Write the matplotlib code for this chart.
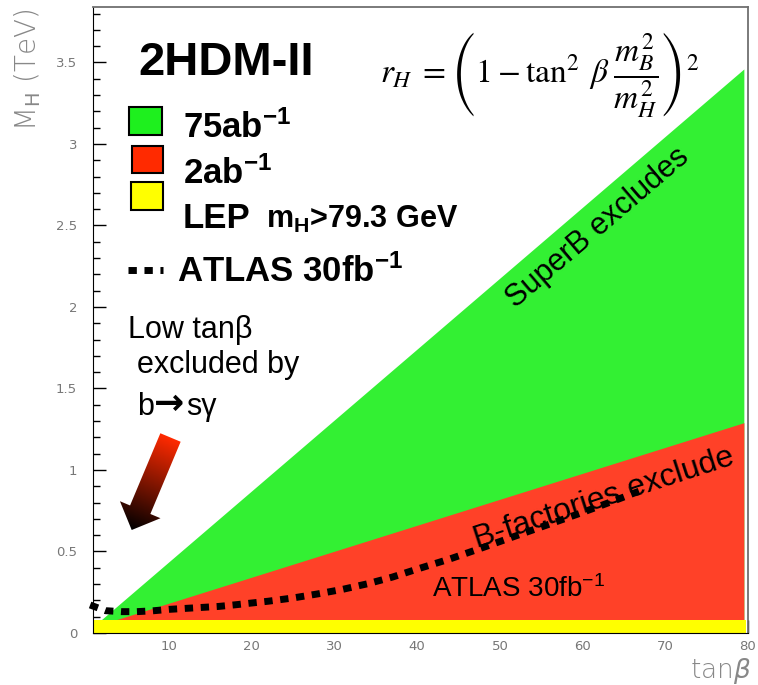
import numpy as np
import matplotlib
matplotlib.use('Agg')
import matplotlib.pyplot as plt
from matplotlib.patches import Rectangle, FancyArrow
from matplotlib.colors import LinearSegmentedColormap
from matplotlib.ticker import MultipleLocator, FuncFormatter

plt.rcParams['font.family'] = ['Liberation Sans', 'DejaVu Sans']
plt.rcParams['mathtext.fontset'] = 'custom'
plt.rcParams['mathtext.rm'] = 'Liberation Sans'
plt.rcParams['mathtext.it'] = 'Liberation Sans:italic'
plt.rcParams['mathtext.bf'] = 'Liberation Sans:bold'

# exclusion boundaries (M_H in TeV vs tan beta)
tanb_edges = [0.0, 79.5]
superb_mh = [0.003, 3.46]      # 75 ab^-1
bfact_mh = [0.024, 1.29]       # 2 ab^-1
lep_mh = [0.0793, 0.0793]      # LEP m_H > 79.3 GeV

# ATLAS 30 fb^-1 reach
atlas_tanb = [0.45, 2.3, 4.2, 6.1, 8, 10, 12, 14, 16, 18, 20, 22, 25, 28, 31,
              34, 37, 40, 44, 48, 52, 56, 60, 64, 67.2]
atlas_mh = [0.172, 0.137, 0.131, 0.131, 0.136, 0.145, 0.151, 0.157, 0.163,
            0.173, 0.184, 0.195, 0.215, 0.24, 0.268, 0.302, 0.343, 0.392,
            0.455, 0.525, 0.597, 0.668, 0.74, 0.815, 0.877]

W, H = 758, 685
green, red, yellow = '#33f033', '#ff4128', '#ffff00'
dots = (0, (1.2, 1.1))

fig = plt.figure(figsize=(W / 100, H / 100), dpi=100)
ax = fig.add_axes([93 / W, 1 - 633 / H, (748 - 93) / W, (633 - 7) / H])

ax.fill_between(tanb_edges, 0, superb_mh, color=green, lw=0, zorder=1)
ax.fill_between(tanb_edges, 0, bfact_mh, color=red, lw=0, zorder=1.1)
ax.fill_between([tanb_edges[0], 79.7], 0, lep_mh, color=yellow, lw=0, zorder=1.2)
ax.plot(atlas_tanb, atlas_mh, color='k', lw=5, ls=dots, clip_on=False, zorder=4)

ax.set_xlim(0.8, 80)
ax.set_ylim(0, 3.84)
ax.set_axisbelow(True)
ax.xaxis.set_major_locator(MultipleLocator(10))
ax.yaxis.set_major_locator(MultipleLocator(0.5))
ax.yaxis.set_minor_locator(MultipleLocator(0.1))
ax.yaxis.set_major_formatter(FuncFormatter(lambda v, p: '%g' % v))
ax.tick_params(which='both', direction='in', labelcolor='#777777',
               labelsize=9.5, width=1)
ax.tick_params(which='major', length=9.5)
ax.tick_params(which='minor', length=5)
ax.tick_params(axis='y', pad=11.5)
ax.tick_params(axis='x', pad=5)
for lab in ax.get_xticklabels() + ax.get_yticklabels():
    lab.set_family('DejaVu Sans')
for s in ['left', 'bottom']:
    ax.spines[s].set_color('k')
for s in ['top', 'right']:
    ax.spines[s].set_color('#707070')
    ax.spines[s].set_linewidth(1.3)

# overlay in pixel coordinates for annotations
ov = fig.add_axes([0, 0, 1, 1])
ov.set_xlim(0, W)
ov.set_ylim(H, 0)
ov.axis('off')

ov.text(28, 9, r'M$_\mathrm{H}$ (TeV)', rotation=90, ha='center', va='top',
        fontsize=20, color='#888888', family='DejaVu Sans', fontweight='light',
        math_fontfamily='dejavusans')
ov.text(751, 678, r'tan$\beta$', ha='right', va='baseline', fontsize=19,
        color='#888888', family='DejaVu Sans', fontweight='light',
        math_fontfamily='dejavusans')

ov.text(138, 75, '2HDM-II', fontsize=34, fontweight='bold', va='baseline')

ov.add_patch(Rectangle((129, 107), 33, 28, fc='#1ef01e', ec='k', lw=1.5))
ov.add_patch(Rectangle((132, 146), 31, 27, fc='#ff2a00', ec='k', lw=1.5))
ov.add_patch(Rectangle((131, 182), 32, 28, fc=yellow, ec='k', lw=1.5))
ov.plot([128, 163], [270, 270], color='k', lw=5, ls=dots)

ov.text(183, 138, r'75ab$^{\mathbf{-1}}$', fontsize=25, fontweight='bold', va='baseline')
ov.text(183, 184, r'2ab$^{\mathbf{-1}}$', fontsize=25, fontweight='bold', va='baseline')
ov.text(183, 228, 'LEP', fontsize=25, fontweight='bold', va='baseline')
ov.text(266, 228, r'm$_{\mathbf{H}}$>79.3 GeV', fontsize=22, fontweight='bold',
        va='baseline')
ov.text(177, 282, r'ATLAS 30fb$^{\mathbf{-1}}$', fontsize=25, fontweight='bold',
        va='baseline')

ov.text(380, 83,
        r'$r_{H}\;=\left(1-\tan^2\;\beta\;\dfrac{m_B^2}{m_H^2}\right)^2$',
        fontsize=24, math_fontfamily='stix', ha='left', va='baseline')

ov.text(128, 338, 'Low tanβ', fontsize=22, va='baseline')
ov.text(137, 373, 'excluded by', fontsize=22, va='baseline')
ov.text(137, 415, 'b', fontsize=22, va='baseline')
ov.text(154, 414, '→', fontsize=26, va='baseline', family='DejaVu Sans',
        fontweight='bold')
ov.text(186, 415, 'sγ', fontsize=22, va='baseline')

ov.text(603, 234, 'SuperB excludes', fontsize=22, rotation=40.5,
        rotation_mode='anchor', ha='center', va='baseline')
ov.text(606, 506, 'B-factories exclude', fontsize=23, rotation=18,
        rotation_mode='anchor', ha='center', va='baseline')
ov.text(432, 597, r'ATLAS 30fb$^{-1}$', fontsize=20, va='baseline')

# gradient arrow (red tail -> black tip)
tx, ty, hx, hy = 170.5, 437.5, 131.7, 530.0
arrow = FancyArrow(tx, ty, hx - tx, hy - ty, width=22, head_width=44,
                   head_length=22, length_includes_head=True,
                   transform=ov.transData, lw=0)
L = np.hypot(hx - tx, hy - ty)
xs = np.linspace(100, 200, 120)
ys = np.linspace(420, 545, 150)
X, Y = np.meshgrid(xs, ys)
val = ((X - tx) * (hx - tx) + (Y - ty) * (hy - ty)) / L ** 2
cmap = LinearSegmentedColormap.from_list('rb', ['#ff2a00', '#000000'])
im = ov.imshow(val, cmap=cmap, vmin=0, vmax=1, extent=[100, 200, 545, 420],
               origin='upper', aspect='auto', interpolation='bilinear')
im.set_clip_path(arrow)
ov.set_xlim(0, W)
ov.set_ylim(H, 0)

fig.savefig('out.png', dpi=100)
